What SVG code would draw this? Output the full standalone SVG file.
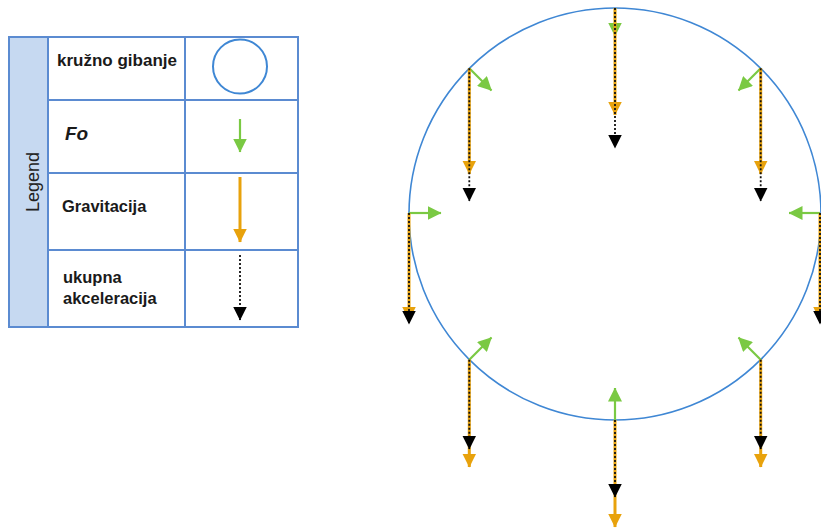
<svg xmlns="http://www.w3.org/2000/svg" width="821" height="529" viewBox="0 0 821 529">
<style>
.cell{fill:none;stroke:#5b8bd1;stroke-width:2}
.lbl{font-family:"Liberation Sans",Arial,sans-serif;font-size:16.5px;font-weight:bold;fill:#1a1a1a}
.fo{stroke:#7ac943;stroke-width:2.2;fill:none}
.gr{stroke:#e8a20c;stroke-width:3;fill:none}
.ac{stroke:#111;stroke-width:1.8;stroke-dasharray:2 2;fill:none}
</style>
<defs>
<marker id="mG" markerUnits="userSpaceOnUse" markerWidth="14" markerHeight="14" viewBox="0 0 14 14" refX="13.5" refY="7" orient="auto"><path d="M0,0 L14,7 L0,14 z" fill="#7ac943"/></marker>
<marker id="mO" markerUnits="userSpaceOnUse" markerWidth="14" markerHeight="14" viewBox="0 0 14 14" refX="13.5" refY="7" orient="auto"><path d="M0,0 L14,7 L0,14 z" fill="#e8a20c"/></marker>
<marker id="mK" markerUnits="userSpaceOnUse" markerWidth="14" markerHeight="14" viewBox="0 0 14 14" refX="13.5" refY="7" orient="auto"><path d="M0,0 L14,7 L0,14 z" fill="#000"/></marker>
</defs>
<rect width="821" height="529" fill="#fff"/>
<g id="legend">
<rect x="9" y="37" width="39" height="290" fill="#c6d9f1" stroke="#5b8bd1" stroke-width="2"/>
<rect class="cell" x="9" y="37" width="289" height="290"/>
<line class="cell" x1="185" y1="37" x2="185" y2="327"/>
<line class="cell" x1="48" y1="100" x2="298" y2="100"/>
<line class="cell" x1="48" y1="173" x2="298" y2="173"/>
<line class="cell" x1="48" y1="250" x2="298" y2="250"/>
<text transform="translate(39,182) rotate(-90)" text-anchor="middle" font-family="Liberation Sans,Arial,sans-serif" font-size="18" fill="#222">Legend</text>
<g id="row-kruzno"><text class="lbl" x="57" y="66" style="font-size:17px">kružno gibanje</text><circle cx="240" cy="66.5" r="27" fill="none" stroke="#3f87d4" stroke-width="2"/></g>
<g id="row-fo"><text class="lbl" x="65" y="140" font-style="italic" style="font-size:19px">Fo</text><line class="fo" x1="240" y1="119" x2="240" y2="152" marker-end="url(#mG)"/></g>
<g id="row-grav"><text class="lbl" x="62" y="212">Gravitacija</text><line class="gr" x1="240" y1="177" x2="240" y2="242" marker-end="url(#mO)"/></g>
<g id="row-ukupna"><text class="lbl" x="63" y="283">ukupna</text><text class="lbl" x="63" y="304">akceleracija</text><line class="ac" x1="240" y1="255" x2="240" y2="320" marker-end="url(#mK)"/></g>
</g>
<g id="circle-path"><circle cx="615" cy="214" r="206" fill="none" stroke="#3f87d4" stroke-width="1.6"/></g>
<g id="connectors">
<g id="v-top"><line class="fo" x1="615" y1="8" x2="615" y2="36" marker-end="url(#mG)"/><line class="gr" x1="615" y1="8" x2="615" y2="115" marker-end="url(#mO)"/><line class="ac" x1="615" y1="8" x2="615" y2="148" marker-end="url(#mK)"/></g>
<g id="v-tl"><line class="fo" x1="469.3" y1="68.3" x2="491.5" y2="90.5" marker-end="url(#mG)"/><line class="gr" x1="469.3" y1="68.3" x2="469.3" y2="174" marker-end="url(#mO)"/><line class="ac" x1="469.3" y1="68.3" x2="469.3" y2="201" marker-end="url(#mK)"/></g>
<g id="v-tr"><line class="fo" x1="760.7" y1="68.3" x2="738.5" y2="90.5" marker-end="url(#mG)"/><line class="gr" x1="760.7" y1="68.3" x2="760.7" y2="174" marker-end="url(#mO)"/><line class="ac" x1="760.7" y1="68.3" x2="760.7" y2="201" marker-end="url(#mK)"/></g>
<g id="v-l"><line class="fo" x1="409" y1="213" x2="441" y2="213" marker-end="url(#mG)"/><line class="gr" x1="409" y1="213" x2="409" y2="320" marker-end="url(#mO)"/><line class="ac" x1="409" y1="213" x2="409" y2="324" marker-end="url(#mK)"/></g>
<g id="v-r"><line class="fo" x1="820" y1="213" x2="789" y2="213" marker-end="url(#mG)"/><line class="gr" x1="820" y1="213" x2="820" y2="320" marker-end="url(#mO)"/><line class="ac" x1="820" y1="213" x2="820" y2="324" marker-end="url(#mK)"/></g>
<g id="v-bl"><line class="fo" x1="469.3" y1="359.7" x2="491.5" y2="337.5" marker-end="url(#mG)"/><line class="gr" x1="469.3" y1="359.7" x2="469.3" y2="467" marker-end="url(#mO)"/><line class="ac" x1="469.3" y1="359.7" x2="469.3" y2="449" marker-end="url(#mK)"/></g>
<g id="v-br"><line class="fo" x1="760.7" y1="359.7" x2="738.5" y2="337.5" marker-end="url(#mG)"/><line class="gr" x1="760.7" y1="359.7" x2="760.7" y2="467" marker-end="url(#mO)"/><line class="ac" x1="760.7" y1="359.7" x2="760.7" y2="449" marker-end="url(#mK)"/></g>
<g id="v-b"><line class="fo" x1="615" y1="420" x2="615" y2="388" marker-end="url(#mG)"/><line class="gr" x1="615" y1="420" x2="615" y2="527" marker-end="url(#mO)"/><line class="ac" x1="615" y1="420" x2="615" y2="497" marker-end="url(#mK)"/></g>
</g>
</svg>
